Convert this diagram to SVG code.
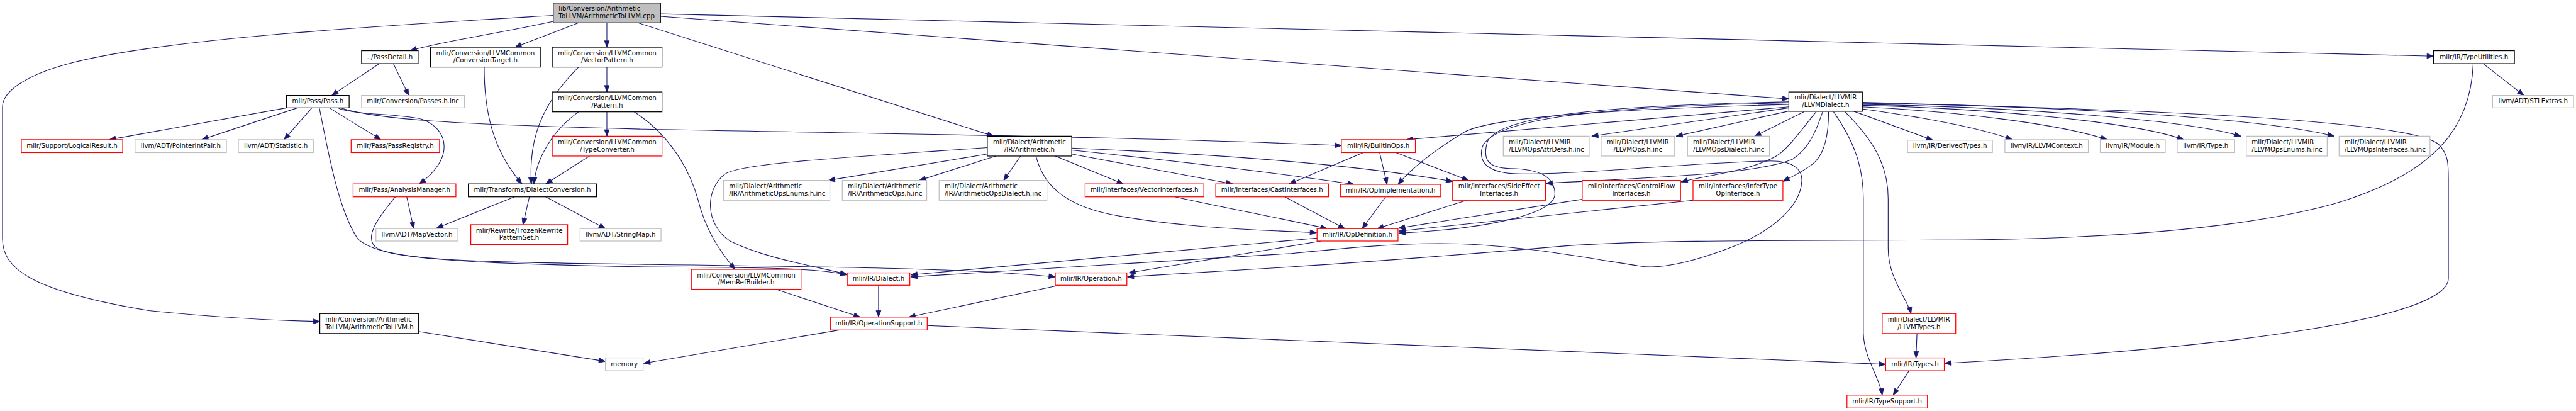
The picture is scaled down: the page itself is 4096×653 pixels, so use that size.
<svg xmlns="http://www.w3.org/2000/svg" width="4096" height="653" viewBox="0 0 4096 653">
<style>
.e{fill:none;stroke:#191970;stroke-width:1.4;marker-end:url(#a)}
rect{fill:#fff;stroke-width:1.6}
.k rect{stroke:#000}
.r rect{stroke:#ff0000}
.g rect{stroke:#bfbfbf}
#root rect{fill:#bfbfbf;stroke:#000}
text{font-family:"DejaVu Sans",sans-serif;font-size:13px;fill:#000}
.c{text-anchor:middle}
</style>
<defs>
<marker id="a" markerUnits="userSpaceOnUse" markerWidth="14" markerHeight="11" refX="13" refY="5.5" orient="auto" overflow="visible">
<path d="M0,0.5 L13,5.5 L0,10.5 z" fill="#191970" stroke="#191970" stroke-width="1"/>
</marker>
</defs>
<rect x="0" y="0" width="4096" height="653" fill="#fff" stroke="none"/>
<g transform="scale(0.78967)">
<g id="edges">
<path class="e" d="M1114,31 C800,50 350,75 150,125 C50,150 5,185 5,215 L5,480 C5,540 60,585 300,625 C450,640 560,645 644,647"/>
<path class="e" d="M1114,43 C1000,68 880,85 826,102"/>
<path class="e" d="M1165,46 L1037,95"/>
<path class="e" d="M1222,46 L1222,95"/>
<path class="e" d="M1285,46 L2001,274"/>
<path class="e" d="M1330,33 L3602,199"/>
<path class="e" d="M1330,28 L4900,113"/>
<path class="e" d="M764,128 L668,192"/>
<path class="e" d="M792,128 L823,192"/>
<path class="e" d="M577,217 L220,281"/>
<path class="e" d="M599,217 L406,281"/>
<path class="e" d="M628,217 L572,281"/>
<path class="e" d="M663,217 L767,281"/>
<path class="e" d="M682,218 C720,232 800,228 850,240 C905,260 915,320 844,370"/>
<path class="e" d="M688,218 C760,240 900,250 1300,260 C1700,268 2300,275 2701,293"/>
<path class="e" d="M643,217 C660,300 680,420 720,480 C760,520 900,530 1300,537 C1550,538 1650,540 1705,553"/>
<path class="e" d="M796,396 C760,440 730,480 760,500 C800,522 950,528 1300,532 C1700,537 1950,540 2125,557"/>
<path class="e" d="M819,396 L833,460"/>
<path class="e" d="M1036,396 L879,459"/>
<path class="e" d="M1066,396 L1053,452"/>
<path class="e" d="M1099,396 L1219,460"/>
<path class="e" d="M975,135 C975,220 990,300 1051,370"/>
<path class="e" d="M1165,135 C1090,210 1064,280 1070,370"/>
<path class="e" d="M1165,225 C1110,265 1080,320 1075,370"/>
<path class="e" d="M1222,135 L1222,185"/>
<path class="e" d="M1222,225 L1222,274"/>
<path class="e" d="M1187,314 L1099,370"/>
<path class="e" d="M1277,225 C1340,265 1385,330 1405,400 C1420,460 1445,500 1480,542"/>
<path class="e" d="M1988,297 C1650,320 1490,330 1460,350 C1420,380 1418,450 1470,485 C1540,520 1640,535 1705,552"/>
<path class="e" d="M1988,310 L1668,363"/>
<path class="e" d="M2005,314 L1851,363"/>
<path class="e" d="M2055,314 L2021,363"/>
<path class="e" d="M2086,314 C2100,370 2140,410 2230,430 C2350,455 2500,462 2651,468"/>
<path class="e" d="M2125,314 L2262,370"/>
<path class="e" d="M2158,310 L2482,370"/>
<path class="e" d="M2158,298 Q2650,318 2925,365"/>
<path class="e" d="M2158,302 C2350,322 2550,345 2727,371"/>
<path class="e" d="M2366,396 C2450,415 2560,435 2672,460"/>
<path class="e" d="M2587,396 L2708,460"/>
<path class="e" d="M2790,396 L2743,460"/>
<path class="e" d="M2953,403 L2773,460"/>
<path class="e" d="M3186,401 L2816,459"/>
<path class="e" d="M3409,403 L2817,465"/>
<path class="e" d="M3602,205 C3250,212 3020,230 2995,285 C2985,320 2995,338 3040,339 C3100,340 3130,355 3131,390 C3130,430 3000,460 2817,469"/>
<path class="e" d="M3602,207 C3200,215 3010,240 2985,295 C2975,330 3000,350 3064,350 C3200,350 3400,328 3560,324 C3610,323 3630,340 3628,365 C3625,420 3560,470 3480,500 C3400,530 3340,542 3300,535 C3200,520 3050,490 2900,490 C2800,490 2700,500 2600,510 L1834,557"/>
<path class="e" d="M4980,128 C4975,260 4900,350 4700,410 C4500,465 4200,482 3900,483 C3500,484 3300,484 3150,495 C2950,512 2800,524 2600,537 L2270,557"/>
<path class="e" d="M5000,128 L5082,192"/>
<path class="e" d="M3750,206 C4300,220 4850,240 4910,290 C4930,310 4930,330 4930,360 L4930,560 C4930,640 4500,700 3916,731"/>
<path class="e" d="M3733,224 L3892,282"/>
<path class="e" d="M3750,219 C3900,240 4000,262 4052,281"/>
<path class="e" d="M3750,215 C3950,225 4150,250 4243,281"/>
<path class="e" d="M3750,212 C4000,218 4300,245 4397,281"/>
<path class="e" d="M3750,210 C4050,215 4400,240 4512,274"/>
<path class="e" d="M3750,208 C4100,212 4550,235 4700,274"/>
<path class="e" d="M3602,215 L2832,281"/>
<path class="e" d="M3602,210 C3250,220 3010,235 2950,265 C2900,295 2850,330 2815,371"/>
<path class="e" d="M3602,217 L3205,274"/>
<path class="e" d="M3604,223 L3375,274"/>
<path class="e" d="M3632,225 L3533,274"/>
<path class="e" d="M3657,225 C3620,270 3600,300 3575,315 C3520,345 3440,352 3385,366"/>
<path class="e" d="M3670,225 C3655,270 3640,300 3610,320 C3540,352 3300,358 3113,369"/>
<path class="e" d="M3682,225 C3682,270 3675,310 3650,330 C3630,345 3610,355 3590,365"/>
<path class="e" d="M3692,225 C3730,280 3752,330 3752,400 L3752,670 C3753,720 3785,760 3790,795"/>
<path class="e" d="M3715,225 C3770,280 3802,330 3802,400 L3802,500 C3802,560 3840,600 3848,631"/>
<path class="e" d="M3860,671 L3858,720"/>
<path class="e" d="M3844,746 L3812,795"/>
<path class="e" d="M1867,655 L3797,733"/>
<path class="e" d="M1690,664 L1296,731"/>
<path class="e" d="M843,667 L1219,727"/>
<path class="e" d="M1562,582 L1732,638"/>
<path class="e" d="M1769,574 L1769,638"/>
<path class="e" d="M2133,574 L1830,638"/>
<path class="e" d="M2652,479 L1834,553"/>
<path class="e" d="M2660,485 L2273,549"/>
<path class="e" d="M2745,307 L2596,370"/>
<path class="e" d="M2778,307 L2793,371"/>
<path class="e" d="M2811,307 L2957,363"/>
</g>
<g id="root"><rect x="1114" y="6" width="216" height="40"/><text x="1125" y="22">lib/Conversion/Arithmetic</text><text x="1125" y="37">ToLLVM/ArithmeticToLLVM.cpp</text></g>
<g id="passdetail" class="k"><rect x="728" y="102" width="114" height="26"/><text class="c" x="785" y="118.5">../PassDetail.h</text></g>
<g id="conversiontarget" class="k"><rect x="867" y="95" width="221" height="40"/><text class="c" x="977.5" y="111">mlir/Conversion/LLVMCommon</text><text class="c" x="977.5" y="126">/ConversionTarget.h</text></g>
<g id="vectorpattern" class="k"><rect x="1112" y="95" width="221" height="40"/><text class="c" x="1222.5" y="111">mlir/Conversion/LLVMCommon</text><text class="c" x="1222.5" y="126">/VectorPattern.h</text></g>
<g id="pass" class="k"><rect x="577" y="192" width="126" height="25"/><text class="c" x="640" y="208">mlir/Pass/Pass.h</text></g>
<g id="passesinc" class="g"><rect x="728" y="192" width="207" height="25"/><text class="c" x="831.5" y="208">mlir/Conversion/Passes.h.inc</text></g>
<g id="pattern" class="k"><rect x="1112" y="185" width="221" height="40"/><text class="c" x="1222.5" y="201">mlir/Conversion/LLVMCommon</text><text class="c" x="1222.5" y="216">/Pattern.h</text></g>
<g id="logicalresult" class="r"><rect x="43" y="281" width="204" height="26"/><text class="c" x="145" y="297.5">mlir/Support/LogicalResult.h</text></g>
<g id="pointerintpair" class="g"><rect x="272" y="281" width="184" height="26"/><text class="c" x="364" y="297.5">llvm/ADT/PointerIntPair.h</text></g>
<g id="statistic" class="g"><rect x="480" y="281" width="151" height="26"/><text class="c" x="555.5" y="297.5">llvm/ADT/Statistic.h</text></g>
<g id="passregistry" class="r"><rect x="707" y="281" width="178" height="26"/><text class="c" x="796" y="297.5">mlir/Pass/PassRegistry.h</text></g>
<g id="typeconverter" class="r"><rect x="1112" y="274" width="221" height="40"/><text class="c" x="1222.5" y="290">mlir/Conversion/LLVMCommon</text><text class="c" x="1222.5" y="305">/TypeConverter.h</text></g>
<g id="analysismanager" class="r"><rect x="711" y="370" width="207" height="26"/><text class="c" x="814.5" y="386.5">mlir/Pass/AnalysisManager.h</text></g>
<g id="dialectconversion" class="k"><rect x="943" y="370" width="258" height="26"/><text class="c" x="1072" y="386.5">mlir/Transforms/DialectConversion.h</text></g>
<g id="mapvector" class="g"><rect x="757" y="460" width="165" height="25"/><text class="c" x="839.5" y="476">llvm/ADT/MapVector.h</text></g>
<g id="frozenrewrite" class="r"><rect x="948" y="452" width="195" height="40"/><text class="c" x="1045.5" y="468">mlir/Rewrite/FrozenRewrite</text><text class="c" x="1045.5" y="483">PatternSet.h</text></g>
<g id="stringmap" class="g"><rect x="1168" y="460" width="163" height="25"/><text class="c" x="1249.5" y="476">llvm/ADT/StringMap.h</text></g>
<g id="arithtollvmh" class="k"><rect x="644" y="631" width="199" height="40"/><text x="655" y="647">mlir/Conversion/Arithmetic</text><text x="655" y="662">ToLLVM/ArithmeticToLLVM.h</text></g>
<g id="memory" class="g"><rect x="1219" y="720" width="76" height="26"/><text class="c" x="1257" y="736.5">memory</text></g>
<g id="arithmetic" class="k"><rect x="1988" y="274" width="170" height="40"/><text class="c" x="2073" y="290">mlir/Dialect/Arithmetic</text><text class="c" x="2073" y="305">/IR/Arithmetic.h</text></g>
<g id="arithopsenums" class="g"><rect x="1457" y="363" width="214" height="40"/><text x="1468" y="379">mlir/Dialect/Arithmetic</text><text x="1468" y="394">/IR/ArithmeticOpsEnums.h.inc</text></g>
<g id="arithops" class="g"><rect x="1696" y="363" width="170" height="40"/><text x="1707" y="379">mlir/Dialect/Arithmetic</text><text x="1707" y="394">/IR/ArithmeticOps.h.inc</text></g>
<g id="arithopsdialect" class="g"><rect x="1891" y="363" width="217" height="40"/><text x="1902" y="379">mlir/Dialect/Arithmetic</text><text x="1902" y="394">/IR/ArithmeticOpsDialect.h.inc</text></g>
<g id="vectorinterfaces" class="r"><rect x="2185" y="370" width="239" height="26"/><text class="c" x="2304.5" y="386.5">mlir/Interfaces/VectorInterfaces.h</text></g>
<g id="castinterfaces" class="r"><rect x="2448" y="370" width="227" height="26"/><text class="c" x="2561.5" y="386.5">mlir/Interfaces/CastInterfaces.h</text></g>
<g id="memrefbuilder" class="r"><rect x="1392" y="542" width="221" height="40"/><text class="c" x="1502.5" y="558">mlir/Conversion/LLVMCommon</text><text class="c" x="1502.5" y="573">/MemRefBuilder.h</text></g>
<g id="dialect" class="r"><rect x="1706" y="549" width="126" height="25"/><text class="c" x="1769" y="565">mlir/IR/Dialect.h</text></g>
<g id="operation" class="r"><rect x="2125" y="549" width="144" height="25"/><text class="c" x="2197" y="565">mlir/IR/Operation.h</text></g>
<g id="operationsupport" class="r"><rect x="1672" y="638" width="195" height="26"/><text class="c" x="1769.5" y="654.5">mlir/IR/OperationSupport.h</text></g>
<g id="llvmdialect" class="k"><rect x="3602" y="185" width="148" height="39"/><text class="c" x="3676" y="200.5">mlir/Dialect/LLVMIR</text><text class="c" x="3676" y="215.5">/LLVMDialect.h</text></g>
<g id="builtinops" class="r"><rect x="2701" y="281" width="149" height="26"/><text class="c" x="2775.5" y="297.5">mlir/IR/BuiltinOps.h</text></g>
<g id="llvmopsattrdefs" class="g"><rect x="3027" y="274" width="173" height="40"/><text x="3038" y="290">mlir/Dialect/LLVMIR</text><text x="3038" y="305">/LLVMOpsAttrDefs.h.inc</text></g>
<g id="llvmopsinc" class="g"><rect x="3224" y="274" width="148" height="40"/><text class="c" x="3298" y="290">mlir/Dialect/LLVMIR</text><text class="c" x="3298" y="305">/LLVMOps.h.inc</text></g>
<g id="llvmopsdialect" class="g"><rect x="3398" y="274" width="165" height="40"/><text x="3409" y="290">mlir/Dialect/LLVMIR</text><text x="3409" y="305">/LLVMOpsDialect.h.inc</text></g>
<g id="derivedtypes" class="g"><rect x="3841" y="282" width="171" height="25"/><text class="c" x="3926.5" y="298">llvm/IR/DerivedTypes.h</text></g>
<g id="llvmcontext" class="g"><rect x="4037" y="281" width="168" height="26"/><text class="c" x="4121" y="297.5">llvm/IR/LLVMContext.h</text></g>
<g id="module" class="g"><rect x="4229" y="281" width="131" height="26"/><text class="c" x="4294.5" y="297.5">llvm/IR/Module.h</text></g>
<g id="type" class="g"><rect x="4384" y="281" width="115" height="26"/><text class="c" x="4441.5" y="297.5">llvm/IR/Type.h</text></g>
<g id="llvmopsenums" class="g"><rect x="4523" y="274" width="163" height="40"/><text x="4534" y="290">mlir/Dialect/LLVMIR</text><text x="4534" y="305">/LLVMOpsEnums.h.inc</text></g>
<g id="llvmopsinterfaces" class="g"><rect x="4710" y="274" width="183" height="40"/><text x="4721" y="290">mlir/Dialect/LLVMIR</text><text x="4721" y="305">/LLVMOpsInterfaces.h.inc</text></g>
<g id="opimplementation" class="r"><rect x="2699" y="371" width="202" height="25"/><text class="c" x="2800" y="387">mlir/IR/OpImplementation.h</text></g>
<g id="sideeffect" class="r"><rect x="2925" y="363" width="187" height="40"/><text class="c" x="3018.5" y="379">mlir/Interfaces/SideEffect</text><text class="c" x="3018.5" y="394">Interfaces.h</text></g>
<g id="controlflow" class="r"><rect x="3186" y="363" width="198" height="40"/><text class="c" x="3285" y="379">mlir/Interfaces/ControlFlow</text><text class="c" x="3285" y="394">Interfaces.h</text></g>
<g id="infertype" class="r"><rect x="3409" y="363" width="181" height="40"/><text class="c" x="3499.5" y="379">mlir/Interfaces/InferType</text><text class="c" x="3499.5" y="394">OpInterface.h</text></g>
<g id="opdefinition" class="r"><rect x="2652" y="460" width="163" height="25"/><text class="c" x="2733.5" y="476">mlir/IR/OpDefinition.h</text></g>
<g id="llvmtypes" class="r"><rect x="3790" y="631" width="148" height="40"/><text class="c" x="3864" y="647">mlir/Dialect/LLVMIR</text><text class="c" x="3864" y="662">/LLVMTypes.h</text></g>
<g id="types" class="r"><rect x="3797" y="720" width="118" height="26"/><text class="c" x="3856" y="736.5">mlir/IR/Types.h</text></g>
<g id="typesupport" class="r"><rect x="3719" y="795" width="162" height="26"/><text class="c" x="3800" y="811.5">mlir/IR/TypeSupport.h</text></g>
<g id="typeutilities" class="k"><rect x="4900" y="102" width="163" height="26"/><text class="c" x="4981.5" y="118.5">mlir/IR/TypeUtilities.h</text></g>
<g id="stlextras" class="g"><rect x="5019" y="192" width="163" height="25"/><text class="c" x="5100.5" y="208">llvm/ADT/STLExtras.h</text></g>
</g>
</svg>
